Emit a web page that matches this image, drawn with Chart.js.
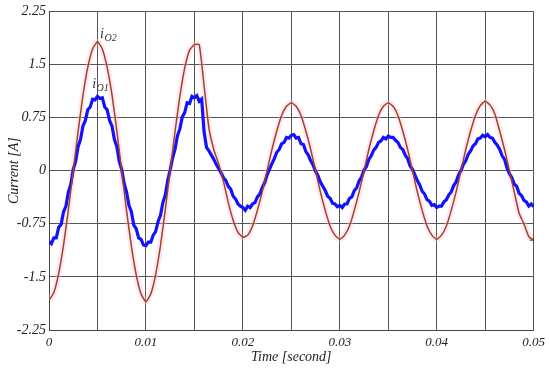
<!DOCTYPE html>
<html>
<head>
<meta charset="utf-8">
<script src="https://cdn.jsdelivr.net/npm/chart.js@4.4.0/dist/chart.umd.min.js"></script>
<style>
  html, body { margin: 0; padding: 0; background: #fff; }
  #wrap { width: 550px; height: 368px; }
</style>
</head>
<body>
<div id="wrap"><canvas id="currentChart" width="550" height="368"></canvas></div>
<script>
// sample spacing of the recorded traces (s)
const stepO2 = 0.0005;
const stepO1 = 0.00025;

// i_O2 (brown/red trace), one value per 0.5 ms, 0 .. 0.05 s
const iO2 = [
  -1.83, -1.72, -1.45, -1.05, -0.55, 0.00, 0.55, 1.06, 1.46, 1.72,
  1.82, 1.72, 1.46, 1.07, 0.56, 0.00, -0.56, -1.07, -1.47, -1.74,
  -1.85, -1.74, -1.47, -1.06, -0.55, 0.00, 0.55, 1.05, 1.45, 1.70,
  1.78, 1.78, 1.20, 0.60, 0.30, 0.10, -0.15, -0.45, -0.70, -0.87,
  -0.94, -0.91, -0.78, -0.56, -0.30, 0.00, 0.30, 0.56, 0.78, 0.91,
  0.96, 0.91, 0.78, 0.56, 0.30, 0.00, -0.30, -0.56, -0.78, -0.91,
  -0.97, -0.91, -0.78, -0.56, -0.30, 0.00, 0.30, 0.56, 0.78, 0.91,
  0.96, 0.91, 0.78, 0.56, 0.30, 0.00, -0.30, -0.56, -0.78, -0.91,
  -0.97, -0.91, -0.78, -0.56, -0.30, 0.00, 0.30, 0.56, 0.78, 0.92,
  0.98, 0.93, 0.80, 0.56, 0.30, 0.00, -0.30, -0.60, -0.75, -0.93,
  -0.98
];

// i_O1 (blue trace), one value per 0.25 ms, 0 .. 0.05 s
const iO1 = [
  -1.00, -1.03, -0.95, -0.95, -0.80, -0.76, -0.58, -0.50, -0.30, -0.19,
  0.02, 0.13, 0.34, 0.44, 0.63, 0.71, 0.86, 0.90, 1.01, 1.00,
  1.05, 1.02, 1.03, 0.90, 0.86, 0.71, 0.63, 0.44, 0.34, 0.13,
  0.02, -0.18, -0.30, -0.49, -0.58, -0.77, -0.82, -0.95, -0.97, -1.05,
  -1.06, -1.01, -1.01, -0.91, -0.86, -0.72, -0.63, -0.45, -0.34, -0.14,
  0.01, 0.18, 0.30, 0.49, 0.59, 0.76, 0.82, 0.96, 0.95, 1.05,
  1.03, 1.06, 0.98, 1.01, 0.55, 0.33, 0.28, 0.22, 0.16, 0.09,
  0.03, -0.03, -0.10, -0.14, -0.22, -0.26, -0.36, -0.40, -0.47, -0.50,
  -0.52, -0.56, -0.50, -0.52, -0.47, -0.45, -0.37, -0.33, -0.24, -0.17,
  -0.06, 0.02, 0.10, 0.17, 0.26, 0.30, 0.38, 0.40, 0.47, 0.46,
  0.50, 0.51, 0.46, 0.47, 0.38, 0.37, 0.27, 0.22, 0.14, 0.08,
  -0.01, -0.07, -0.16, -0.22, -0.28, -0.36, -0.39, -0.46, -0.47, -0.51,
  -0.49, -0.52, -0.47, -0.47, -0.39, -0.37, -0.28, -0.24, -0.14, -0.09,
  0.01, 0.06, 0.16, 0.21, 0.29, 0.33, 0.40, 0.42, 0.47, 0.45,
  0.49, 0.47, 0.47, 0.43, 0.40, 0.33, 0.30, 0.22, 0.17, 0.07,
  0.02, -0.06, -0.14, -0.20, -0.29, -0.33, -0.41, -0.43, -0.49, -0.48,
  -0.52, -0.50, -0.50, -0.44, -0.41, -0.34, -0.30, -0.21, -0.16, -0.06,
  0.00, 0.09, 0.14, 0.23, 0.28, 0.35, 0.38, 0.45, 0.46, 0.50,
  0.48, 0.51, 0.47, 0.46, 0.40, 0.36, 0.30, 0.21, 0.16, 0.04,
  -0.04, -0.10, -0.19, -0.22, -0.32, -0.35, -0.42, -0.44, -0.50, -0.47,
  -0.51
];

// axis ticks
const xGrid = [0, 0.005, 0.01, 0.015, 0.02, 0.025, 0.03, 0.035, 0.04, 0.045, 0.05];
const xLabels = ['0', '', '0.01', '', '0.02', '', '0.03', '', '0.04', '', '0.05'];
const yTicks = [-2.25, -1.5, -0.75, 0, 0.75, 1.5, 2.25];
const yLabels = ['-2.25', '-1.5', '-0.75', '0', '0.75', '1.5', '2.25'];

// trace labels: [text, subscript, x, y]
const traceLabels = [
  ['i', 'O2', 0.00527, 1.87],
  ['i', 'O1', 0.00445, 1.17]
];

const toPoints = (arr, step) => arr.map((v, i) => ({ x: +(i * step).toFixed(5), y: v }));

const serif = "'Liberation Serif', 'Times New Roman', serif";

const labelPlugin = {
  id: 'traceLabels',
  afterDatasetsDraw(chart) {
    const { ctx, scales } = chart;
    ctx.save();
    ctx.fillStyle = '#333';
    ctx.textBaseline = 'alphabetic';
    traceLabels.forEach(([t, sub, x, y]) => {
      const px = scales.x.getPixelForValue(x);
      const py = scales.y.getPixelForValue(y);
      ctx.font = 'italic 14px ' + serif;
      ctx.fillText(t, px, py);
      const w = ctx.measureText(t).width;
      ctx.font = 'italic 10px ' + serif;
      ctx.fillText(sub, px + w + 0.5, py + 3);
    });
    ctx.restore();
  }
};

new Chart(document.getElementById('currentChart'), {
  type: 'line',
  data: {
    datasets: [
      {
        label: 'iO2',
        order: 0,
        data: toPoints(iO2, stepO2),
        borderColor: '#9e4420',
        borderWidth: 1.5,
        pointStyle: 'cross',
        pointBorderColor: '#553322',
        pointBorderWidth: 1,
        pointRadius: ctx => ctx.dataIndex === iO2.length - 1 ? 4 : 0,
        tension: 0.15
      },
      {
        label: 'iO1',
        order: 1,
        data: toPoints(iO1, stepO1),
        borderColor: '#1212ff',
        borderWidth: 3.2,
        pointRadius: 0,
        tension: 0
      },
      {
        label: 'halo',
        order: 2,
        data: toPoints(iO2, stepO2),
        borderColor: 'rgba(255, 185, 220, 0.35)',
        borderWidth: 6,
        pointRadius: 0,
        tension: 0.15
      }
    ]
  },
  options: {
    responsive: false,
    animation: false,
    events: [],
    layout: { padding: { top: 6, right: 13, left: 0, bottom: 0 } },
    plugins: {
      legend: { display: false },
      tooltip: { enabled: false }
    },
    scales: {
      x: {
        type: 'linear',
        min: 0,
        max: 0.05,
        afterBuildTicks: s => { s.ticks = xGrid.map(v => ({ value: v })); },
        afterFit: s => { s.height = 38; },
        grid: { color: '#555', lineWidth: 1, drawTicks: false },
        border: { color: '#444', width: 1 },
        ticks: {
          autoSkip: false,
          maxRotation: 0,
          padding: 5,
          color: '#222',
          font: { family: serif, size: 13, style: 'italic' },
          callback: (v, i) => xLabels[i]
        },
        title: {
          display: true,
          text: 'Time [second]',
          color: '#222',
          padding: { top: 0, bottom: 2 },
          font: { family: serif, size: 14, style: 'italic' }
        }
      },
      y: {
        min: -2.25,
        max: 2.25,
        afterBuildTicks: s => { s.ticks = yTicks.map(v => ({ value: v })); },
        afterFit: s => { s.width = 49; },
        grid: { color: '#555', lineWidth: 1, drawTicks: false },
        border: { color: '#444', width: 1 },
        ticks: {
          padding: 3,
          color: '#222',
          font: { family: serif, size: 14, style: 'italic' },
          callback: (v, i) => yLabels[i]
        },
        title: {
          display: true,
          text: 'Current [A]',
          color: '#222',
          padding: { top: 6, bottom: 0 },
          font: { family: serif, size: 14, style: 'italic' }
        }
      }
    }
  },
  plugins: [labelPlugin]
});
</script>
</body>
</html>
